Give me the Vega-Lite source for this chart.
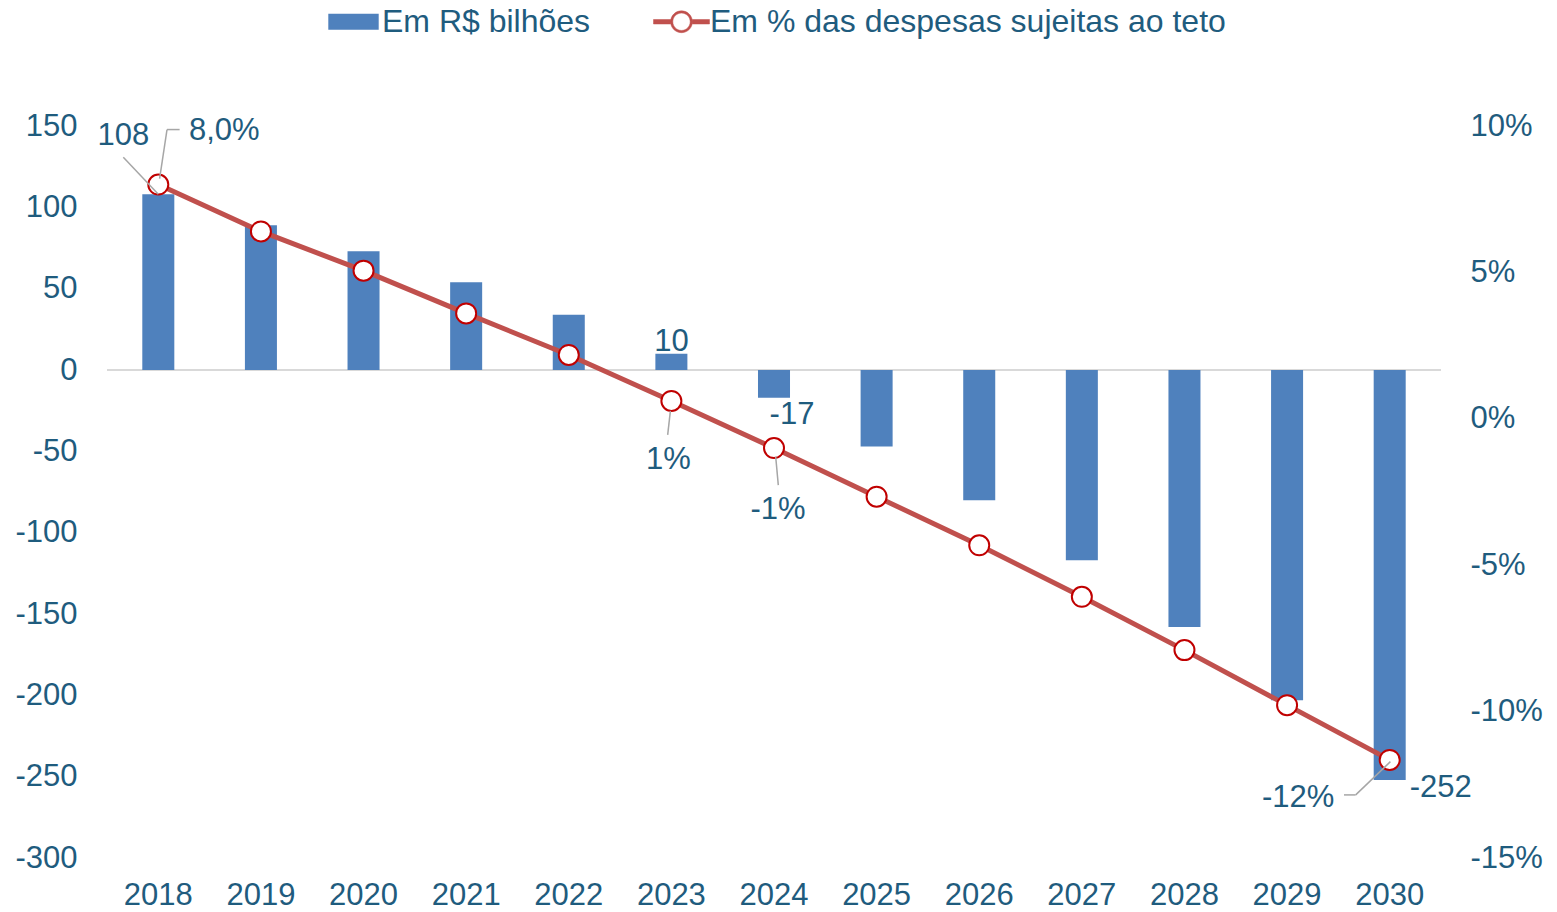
{
  "$schema": "https://vega.github.io/schema/vega-lite/v6.json",
  "width": 1334,
  "height": 732,
  "autosize": {"type": "none"},
  "padding": {"left": 107, "top": 126, "right": 116, "bottom": 54},
  "background": "#FFFFFF",
  "config": {
    "view": {"stroke": null},
    "font": "Liberation Sans",
    "axis": {"labelFont": "Liberation Sans", "labelFontSize": 31, "labelColor": "#1F5C7E", "grid": false, "domain": false, "ticks": false},
    "text": {"font": "Liberation Sans", "fontSize": 31, "fill": "#1F5C7E", "align": "center", "baseline": "middle"}
  },
  "data": {"values": [
    {"ano": "2018", "bilhoes": 108, "pct": 8.0, "rot_bar": "108", "rot_pct": "8,0%"},
    {"ano": "2019", "bilhoes": 89, "pct": 6.40},
    {"ano": "2020", "bilhoes": 73, "pct": 5.06},
    {"ano": "2021", "bilhoes": 54, "pct": 3.60},
    {"ano": "2022", "bilhoes": 34, "pct": 2.18},
    {"ano": "2023", "bilhoes": 10, "pct": 0.61, "rot_bar": "10", "rot_pct": "1%"},
    {"ano": "2024", "bilhoes": -17, "pct": -1.00, "rot_bar": "-17", "rot_pct": "-1%"},
    {"ano": "2025", "bilhoes": -47, "pct": -2.66},
    {"ano": "2026", "bilhoes": -80, "pct": -4.32},
    {"ano": "2027", "bilhoes": -117, "pct": -6.08},
    {"ano": "2028", "bilhoes": -158, "pct": -7.90},
    {"ano": "2029", "bilhoes": -203, "pct": -9.78},
    {"ano": "2030", "bilhoes": -252, "pct": -11.65, "rot_bar": "-252", "rot_pct": "-12%"}
  ]},
  "layer": [
    {
      "encoding": {
        "y": {"field": "bilhoes", "type": "quantitative", "title": null,
          "scale": {"domain": [-300, 150], "nice": false, "zero": false},
          "axis": {"orient": "left", "values": [-300, -250, -200, -150, -100, -50, 0, 50, 100, 150], "labelExpr": "'' + datum.value", "labelPadding": 30}}
      },
      "layer": [
        {"mark": {"type": "rule", "color": "#D9D9D9", "strokeWidth": 2}, "encoding": {"y": {"datum": 0}}},
        {
          "mark": {"type": "bar"},
          "encoding": {
            "x": {"field": "ano", "type": "ordinal", "title": null,
              "scale": {"paddingInner": 0.688, "paddingOuter": 0.344},
              "axis": {"orient": "bottom", "labelAngle": 0, "labelPadding": 22}},
            "color": {"datum": "Em R$ bilhões", "type": "nominal",
              "scale": {"domain": ["Em R$ bilhões", "Em % das despesas sujeitas ao teto"], "range": ["#4F81BD", "#C0504D"]},
              "legend": {
                "title": null, "orient": "none", "legendX": 218, "legendY": -133, "direction": "horizontal",
                "columnPadding": 61, "labelOffset": 0, "labelFontSize": 32, "labelFont": "Liberation Sans",
                "labelColor": "#1F5C7E", "labelLimit": 700, "symbolSize": 3136,
                "encode": {"symbols": {"update": {
                  "shape": {"signal": "datum.value === 'Em R$ bilhões' ? 'M-0.9,-0.29H0.9V0.29H-0.9Z' : 'M-1,-0.08H-0.39V0.08H-1Z M0.39,-0.08H1V0.08H0.39Z M0.39,0A0.39,0.39,0,1,1,-0.39,0A0.39,0.39,0,1,1,0.39,0Z M0.31,0A0.31,0.31,0,1,0,-0.31,0A0.31,0.31,0,1,0,0.31,0Z'"},
                  "stroke": {"signal": "datum.value === 'Em R$ bilhões' ? 'transparent' : '#C0504D'"},
                  "strokeWidth": {"value": 0.5},
                  "opacity": {"value": 1},
                  "fillOpacity": {"value": 1}
                }}}
              }}
          }
        },
        {"transform": [{"filter": "datum.ano === '2018'"}], "mark": {"type": "text", "dx": -35, "dy": -58}, "encoding": {"x": {"field": "ano", "type": "ordinal", "title": null}, "text": {"field": "rot_bar"}}},
        {"transform": [{"filter": "datum.ano === '2023'"}], "mark": {"type": "text", "dx": 0, "dy": -12}, "encoding": {"x": {"field": "ano", "type": "ordinal", "title": null}, "text": {"field": "rot_bar"}}},
        {"transform": [{"filter": "datum.ano === '2024'"}], "mark": {"type": "text", "dx": 18, "dy": 17}, "encoding": {"x": {"field": "ano", "type": "ordinal", "title": null}, "text": {"field": "rot_bar"}}},
        {"transform": [{"filter": "datum.ano === '2030'"}], "mark": {"type": "text", "dx": 51, "dy": 8.5}, "encoding": {"x": {"field": "ano", "type": "ordinal", "title": null}, "text": {"field": "rot_bar"}}}
      ]
    },
    {
      "encoding": {
        "y": {"field": "pct", "type": "quantitative", "title": null,
          "scale": {"domain": [-15, 10], "nice": false, "zero": false},
          "axis": {"orient": "right", "values": [-15, -10, -5, 0, 5, 10], "labelExpr": "datum.value + '%'", "labelPadding": 29}}
      },
      "layer": [
        {"mark": {"type": "line", "color": "#C0504D", "strokeWidth": 5}, "encoding": {"x": {"field": "ano", "type": "ordinal", "title": null}}},
        {"mark": {"type": "point", "shape": "circle", "filled": true, "fill": "#FFFFFF", "stroke": "#C00000", "strokeWidth": 2, "size": 400, "opacity": 1}, "encoding": {"x": {"field": "ano", "type": "ordinal", "title": null}}},
        {"transform": [{"filter": "datum.ano === '2018'"}], "mark": {"type": "rule", "color": "#A6A6A6", "strokeWidth": 1.5, "xOffset": -35, "yOffset": -27.3, "x2Offset": 0, "y2Offset": 9.7}, "encoding": {"x": {"field": "ano", "type": "ordinal", "title": null, "bandPosition": 0.5}, "x2": {"field": "ano", "bandPosition": 0.5}, "y2": {"field": "pct"}}},
        {"transform": [{"filter": "datum.ano === '2018'"}], "mark": {"type": "rule", "color": "#A6A6A6", "strokeWidth": 1.5, "xOffset": 1.3, "yOffset": -6, "x2Offset": 8.7, "y2Offset": -55}, "encoding": {"x": {"field": "ano", "type": "ordinal", "title": null, "bandPosition": 0.5}, "x2": {"field": "ano", "bandPosition": 0.5}, "y2": {"field": "pct"}}},
        {"transform": [{"filter": "datum.ano === '2018'"}], "mark": {"type": "rule", "color": "#A6A6A6", "strokeWidth": 1.5, "xOffset": 8.7, "yOffset": -55, "x2Offset": 21.3, "y2Offset": -55}, "encoding": {"x": {"field": "ano", "type": "ordinal", "title": null, "bandPosition": 0.5}, "x2": {"field": "ano", "bandPosition": 0.5}, "y2": {"field": "pct"}}},
        {"transform": [{"filter": "datum.ano === '2023'"}], "mark": {"type": "rule", "color": "#A6A6A6", "strokeWidth": 1.5, "xOffset": -1, "yOffset": 10, "x2Offset": -3.7, "y2Offset": 34}, "encoding": {"x": {"field": "ano", "type": "ordinal", "title": null, "bandPosition": 0.5}, "x2": {"field": "ano", "bandPosition": 0.5}, "y2": {"field": "pct"}}},
        {"transform": [{"filter": "datum.ano === '2024'"}], "mark": {"type": "rule", "color": "#A6A6A6", "strokeWidth": 1.5, "xOffset": 1.7, "yOffset": 8.7, "x2Offset": 4.3, "y2Offset": 37}, "encoding": {"x": {"field": "ano", "type": "ordinal", "title": null, "bandPosition": 0.5}, "x2": {"field": "ano", "bandPosition": 0.5}, "y2": {"field": "pct"}}},
        {"transform": [{"filter": "datum.ano === '2030'"}], "mark": {"type": "rule", "color": "#A6A6A6", "strokeWidth": 1.5, "xOffset": -45.7, "yOffset": 35, "x2Offset": -34, "y2Offset": 35}, "encoding": {"x": {"field": "ano", "type": "ordinal", "title": null, "bandPosition": 0.5}, "x2": {"field": "ano", "bandPosition": 0.5}, "y2": {"field": "pct"}}},
        {"transform": [{"filter": "datum.ano === '2030'"}], "mark": {"type": "rule", "color": "#A6A6A6", "strokeWidth": 1.5, "xOffset": -34, "yOffset": 35, "x2Offset": 0.7, "y2Offset": 1.7}, "encoding": {"x": {"field": "ano", "type": "ordinal", "title": null, "bandPosition": 0.5}, "x2": {"field": "ano", "bandPosition": 0.5}, "y2": {"field": "pct"}}},
        {"transform": [{"filter": "datum.ano === '2018'"}], "mark": {"type": "text", "dx": 66, "dy": -53.6}, "encoding": {"x": {"field": "ano", "type": "ordinal", "title": null}, "text": {"field": "rot_pct"}}},
        {"transform": [{"filter": "datum.ano === '2023'"}], "mark": {"type": "text", "dx": -3, "dy": 58.7}, "encoding": {"x": {"field": "ano", "type": "ordinal", "title": null}, "text": {"field": "rot_pct"}}},
        {"transform": [{"filter": "datum.ano === '2024'"}], "mark": {"type": "text", "dx": 4, "dy": 62}, "encoding": {"x": {"field": "ano", "type": "ordinal", "title": null}, "text": {"field": "rot_pct"}}},
        {"transform": [{"filter": "datum.ano === '2030'"}], "mark": {"type": "text", "dx": -91.5, "dy": 37.7}, "encoding": {"x": {"field": "ano", "type": "ordinal", "title": null}, "text": {"field": "rot_pct"}}}
      ]
    }
  ],
  "resolve": {"scale": {"y": "independent"}}
}
